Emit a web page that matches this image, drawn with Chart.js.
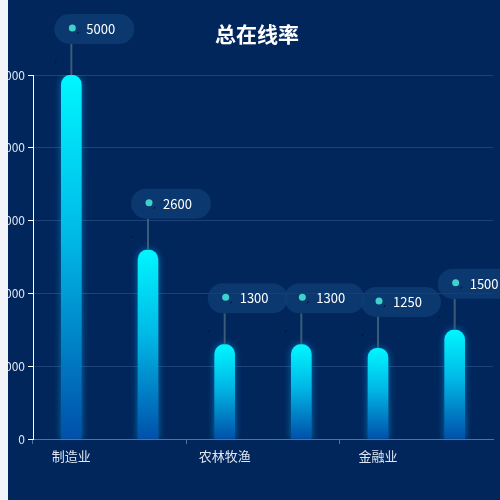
<!DOCTYPE html>
<html><head><meta charset="utf-8">
<script src="https://cdn.jsdelivr.net/npm/chart.js@4/dist/chart.umd.min.js"></script>
<style>
html,body{margin:0;padding:0;background:#f2f4f9;width:500px;height:500px;overflow:hidden}
#wrap{position:absolute;left:8px;top:0;width:492px;height:500px;overflow:hidden;background:#00265c}
#box{position:absolute;left:-8px;top:0;width:514px;height:500px}
</style></head><body>
<div id="wrap"><div id="box"><canvas id="c"></canvas></div></div>
<script>
const categories = ['制造业', '', '农林牧渔', '', '金融业', ''];
const values = [5000, 2600, 1300, 1300, 1250, 1500];
const yTicks = [0, 1000, 2000, 3000, 4000, 5000];
const titleText = '总在线率';
const FONT = '"Noto Sans CJK SC", "Noto Sans", sans-serif';

const glow = {
  id: 'glow',
  beforeDatasetDraw(chart) { const c = chart.ctx; c.save(); c.shadowBlur = 7; c.shadowColor = 'rgba(0,190,255,0.5)'; },
  afterDatasetDraw(chart) { chart.ctx.restore(); }
};
const titleDraw = {
  id: 'titleDraw',
  afterDraw(chart) {
    const c = chart.ctx;
    c.save();
    c.fillStyle = '#ffffff'; c.font = 'bold 21px ' + FONT;
    c.textAlign = 'center'; c.textBaseline = 'middle';
    c.fillText(titleText, chart.width / 2, 34);
    c.restore();
  }
};
const pills = {
  id: 'pills',
  afterDatasetsDraw(chart) {
    const c = chart.ctx;
    const meta = chart.getDatasetMeta(0);
    meta.data.forEach((el, i) => {
      const x = el.x, y = el.y;
      c.save();
      c.strokeStyle = '#3a5c78'; c.lineWidth = 2;
      c.beginPath(); c.moveTo(x, y - 31); c.lineTo(x, y); c.stroke();
      c.fillStyle = 'rgba(16,64,120,0.7)';
      c.beginPath(); c.roundRect(x - 17, y - 61, 80, 30, 15); c.fill();
      c.fillStyle = '#3dd2cc';
      c.beginPath(); c.arc(x + 1, y - 47, 3.5, 0, Math.PI * 2); c.fill();
      c.fillStyle = '#ffffff'; c.font = '13px ' + FONT; c.textBaseline = 'middle'; c.textAlign = 'left';
      c.fillText(String(values[i]), x + 15, y - 46);
      c.strokeStyle = '#0a0f20'; c.lineWidth = 1;
      c.beginPath(); c.moveTo(x + 7, y - 43); c.lineTo(x + 6, y - 41); c.stroke();
      c.beginPath(); c.moveTo(x - 15, y - 14); c.lineTo(x - 16, y - 12); c.stroke();
      c.restore();
    });
  }
};

new Chart(document.getElementById('c'), {
  type: 'bar',
  data: {
    labels: categories,
    datasets: [{
      data: values,
      barThickness: 20,
      borderRadius: { topLeft: 10, topRight: 10 },
      borderSkipped: 'bottom',
      backgroundColor(ctx) {
        const ch = ctx.chart, area = ch.chartArea;
        if (!area || ctx.raw == null) return '#00c8f0';
        const yTop = ch.scales.y.getPixelForValue(ctx.raw), yBot = ch.scales.y.getPixelForValue(0);
        const g = ch.ctx.createLinearGradient(0, yTop, 0, yBot);
        g.addColorStop(0, '#00f6ff');
        g.addColorStop(0.45, '#00b8e6');
        g.addColorStop(1, '#0050aa');
        return g;
      }
    }]
  },
  options: {
    responsive: true, maintainAspectRatio: false, animation: false,
    layout: { padding: { left: 0, right: 21, top: 75, bottom: 21 } },
    plugins: { legend: { display: false }, tooltip: { enabled: false }, title: { display: false } },
    scales: {
      x: {
        afterFit(s) { s.height = 40; },
        grid: { drawOnChartArea: false, offset: true, tickLength: 5,
          tickColor(ctx) { return ctx.index % 2 === 0 ? '#5a7292' : 'rgba(0,0,0,0)'; },
          color(ctx) { return ctx.index % 2 === 0 ? '#5a7292' : 'rgba(0,0,0,0)'; } },
        border: { color: '#5a7292' },
        ticks: { autoSkip: false, maxRotation: 0, padding: 4, color: '#dfe6f2', font: { family: FONT, size: 13 } }
      },
      y: {
        min: 0, max: 5000,
        afterFit(s) { s.width = 33; },
        afterBuildTicks(s) { s.ticks = yTicks.map(v => ({ value: v })); },
        grid: { color: 'rgba(120,150,200,0.25)', tickColor: '#ffffff', tickLength: 5 },
        border: { color: '#ffffff' },
        ticks: { padding: 3, color: '#dfe6f2', font: { family: FONT, size: 12 } }
      }
    }
  },
  plugins: [glow, pills, titleDraw]
});
</script></body></html>
